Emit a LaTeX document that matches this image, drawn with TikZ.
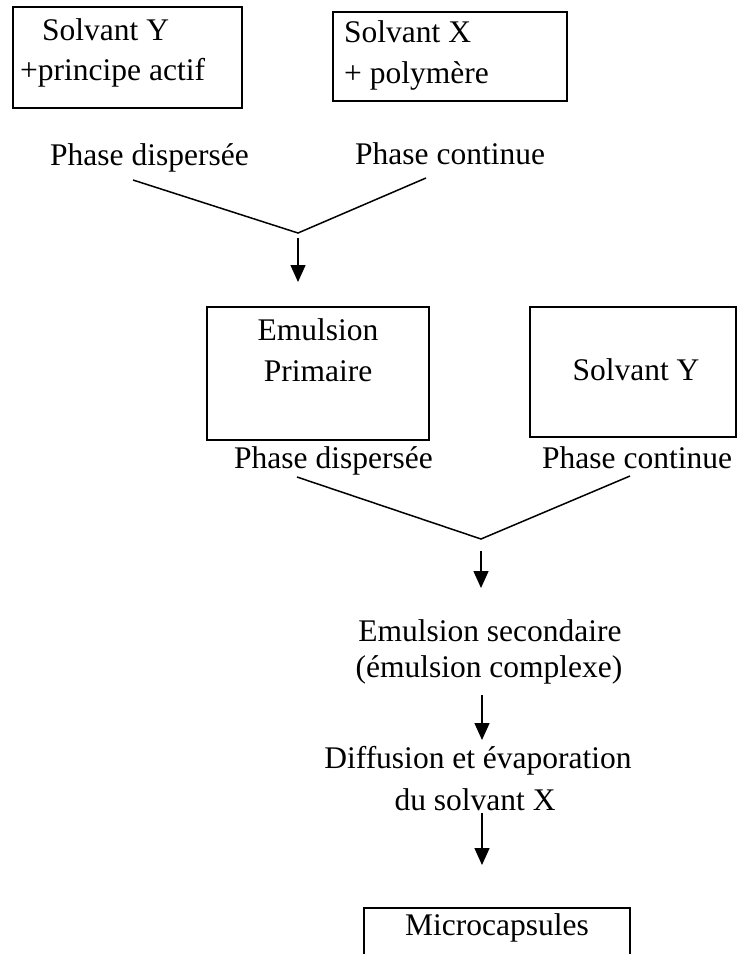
\documentclass[tikz,border=0pt]{standalone}
\usepackage{fontspec}
\setmainfont{Liberation Serif}
\usetikzlibrary{arrows.meta}
\begin{document}
\begin{tikzpicture}[x=1pt,y=-1pt,
  box/.style={draw, line width=2.8pt, inner sep=0pt},
  txt/.style={inner sep=0pt, font=\fontsize{31.5}{38}\selectfont},
  link/.style={line width=1.5pt},
  flow/.style={line width=1.5pt, -{Triangle[length=17pt,width=15pt]}}]
\useasboundingbox (0,0) rectangle (738,954);

% top boxes
\node[box, minimum width=229pt, minimum height=101pt] (b1) at (127.5,57.5) {};
\node[txt, anchor=base west] (t1a) at (42,40) {Solvant Y};
\node[txt, anchor=base west] (t1b) at (20,80) {+principe actif};

\node[box, minimum width=234pt, minimum height=89pt] (b2) at (450,56.5) {};
\node[txt, anchor=base west] (t2a) at (344,42) {Solvant X};
\node[txt, anchor=base west] (t2b) at (344,83) {+ polymère};

\node[txt, anchor=base west] (pd1) at (50,165) {Phase dispersée};
\node[txt, anchor=base west] (pc1) at (355,164) {Phase continue};

\coordinate (l1a) at (133,180);
\coordinate (l1b) at (426,178);
\coordinate (v1) at (298,233);
\coordinate (a1s) at (298,238);
\coordinate (a1e) at (298,282);
\draw[link] (l1a) -- (v1) -- (l1b);
\draw[flow] (a1s) -- (a1e);

% middle boxes
\node[box, minimum width=222pt, minimum height=133pt] (b3) at (318,373.5) {};
\node[txt, anchor=base] (t3a) at (318,340) {Emulsion};
\node[txt, anchor=base] (t3b) at (318,381) {Primaire};

\node[box, minimum width=206pt, minimum height=130pt] (b4) at (633,372) {};
\node[txt, anchor=base] (t4) at (636,380) {Solvant Y};

\node[txt, anchor=base west] (pd2) at (234,468) {Phase dispersée};
\node[txt, anchor=base west] (pc2) at (542,468) {Phase continue};

\coordinate (l2a) at (297,477);
\coordinate (l2b) at (630,476);
\coordinate (v2) at (481,539);
\coordinate (a2s) at (481,551);
\coordinate (a2e) at (481,588);
\draw[link] (l2a) -- (v2) -- (l2b);
\draw[flow] (a2s) -- (a2e);

% lower chain
\node[txt, anchor=base] (es1) at (490,641) {Emulsion secondaire};
\node[txt, anchor=base] (es2) at (489,677) {(émulsion complexe)};
\coordinate (a3s) at (482,695);
\coordinate (a3e) at (482,740);
\draw[flow] (a3s) -- (a3e);

\node[txt, anchor=base] (df1) at (478,768) {Diffusion et évaporation};
\node[txt, anchor=base] (df2) at (475,810) {du solvant X};
\coordinate (a4s) at (482,813);
\coordinate (a4e) at (482,865);
\draw[flow] (a4s) -- (a4e);

\begin{scope}
\clip (0,0) rectangle (738,954);
\node[box, minimum width=266pt, minimum height=80pt] (b5) at (497,948) {};
\end{scope}
\node[txt, anchor=base] (mc) at (497,935) {Microcapsules};
\end{tikzpicture}
\end{document}
